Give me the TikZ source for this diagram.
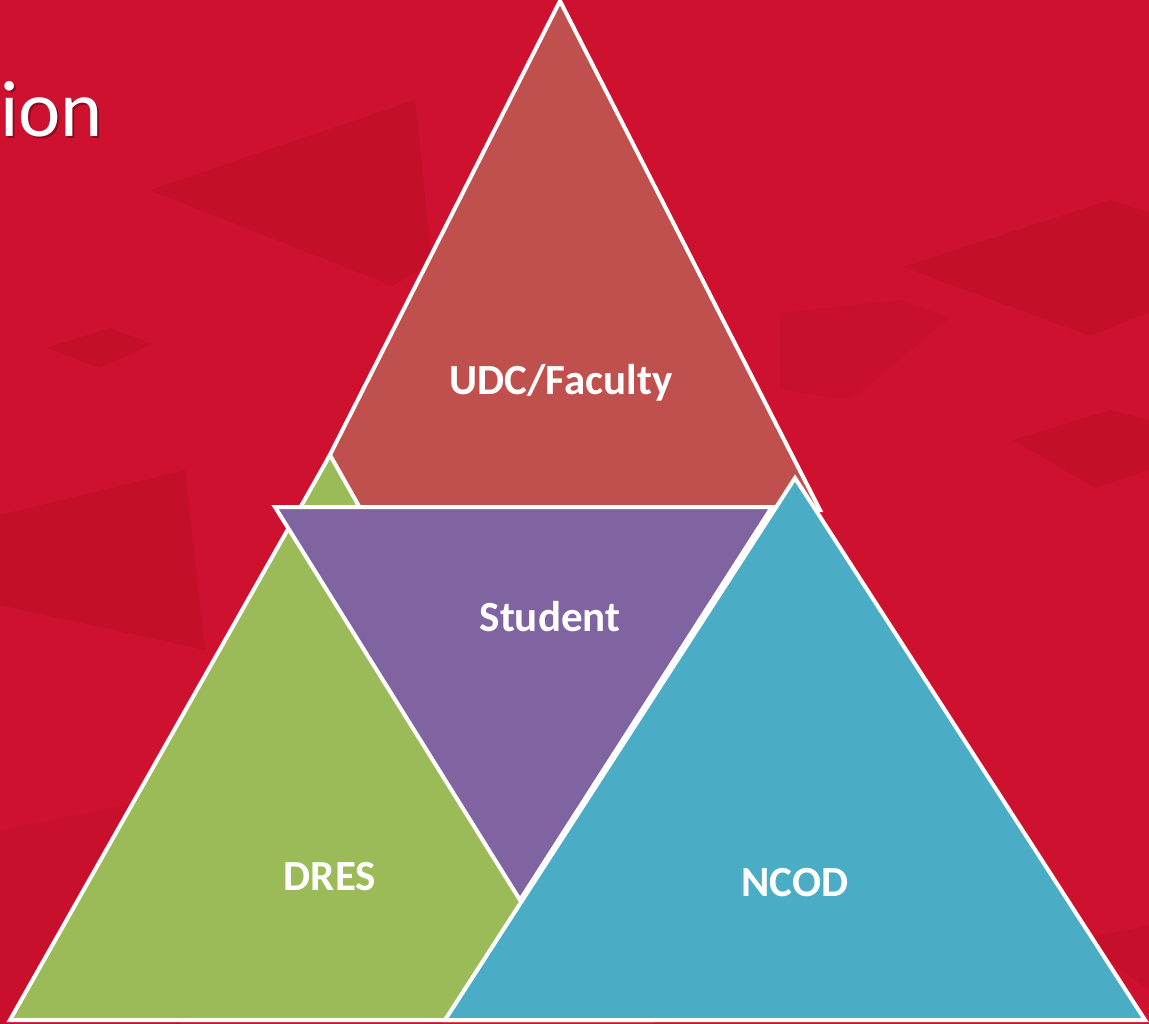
\documentclass[tikz,border=0pt]{standalone}
\usepackage{fontspec}
\setmainfont{Carlito}
\usetikzlibrary{positioning}

\definecolor{slidered}{HTML}{CF1130}
\definecolor{blockred}{HTML}{B80D22}
\definecolor{udcred}{HTML}{C0504D}
\definecolor{drgreen}{HTML}{9BBB59}
\definecolor{stpurple}{HTML}{8064A2}
\definecolor{ncblue}{HTML}{4BACC6}

\tikzset{
  tri/.style={draw=white, line width=4pt, line join=miter},
  block/.style={fill=blockred, fill opacity=0.45, draw=none},
  lbl/.style={text=white, font=\bfseries\fontsize{43}{46}\selectfont, inner sep=0pt}
}

\begin{document}
\begin{tikzpicture}[x=1pt, y=-1pt]
\useasboundingbox (0,0) rectangle (1149,1024);
\fill[slidered] (0,0) rectangle (1149,1024);

% background blocks
\fill[block] (150,190) -- (415,100) -- (432,262) -- (392,286) -- cycle;
\fill[block] (46,348) -- (110,328) -- (152,344) -- (100,368) -- cycle;
\fill[block] (0,515) -- (185,470) -- (205,650) -- (0,605) -- cycle;
\fill[block] (903,267) -- (1110,200) -- (1149,212) -- (1149,312) -- (1090,336) -- cycle;
\fill[block] (1013,440) -- (1110,410) -- (1149,420) -- (1149,470) -- (1095,488) -- cycle;
\fill[block, fill opacity=0.3] (780,313) -- (900,300) -- (950,318) -- (850,400) -- (780,390) -- cycle;
\fill[block, fill opacity=0.3] (0,830) -- (150,800) -- (180,1024) -- (0,1024) -- cycle;
\fill[block, fill opacity=0.35] (1080,940) -- (1149,925) -- (1149,990) -- cycle;

% title fragment
\node[anchor=base west, inner sep=0pt, text=black, opacity=0.3,
  font=\fontsize{80}{90}\selectfont] at (2,139) {ion};
\node[anchor=base west, inner sep=0pt, text=white,
  font=\fontsize{80}{90}\selectfont] (title) at (0,137) {ion};

% triangles, back to front
\draw[tri, fill=udcred] (560,1) -- (820,510) -- (302,510) -- cycle;
\draw[tri, fill=drgreen] (330,455) -- (650,1020) -- (10,1020) -- cycle;
\draw[tri, fill=stpurple] (275,507) -- (772,507) -- (520,900) -- cycle;
\draw[tri, fill=ncblue] (795,478) -- (1145,1020) -- (445,1020) -- cycle;

% labels
\node[lbl] (udc) at (561,383) {UDC/Faculty};
\node[lbl] (student) at (550,617) {Student};
\node[lbl] (dres) at (330,877) {DRES};
\node[lbl] (ncod) at (795,883) {NCOD};
\end{tikzpicture}
\end{document}
